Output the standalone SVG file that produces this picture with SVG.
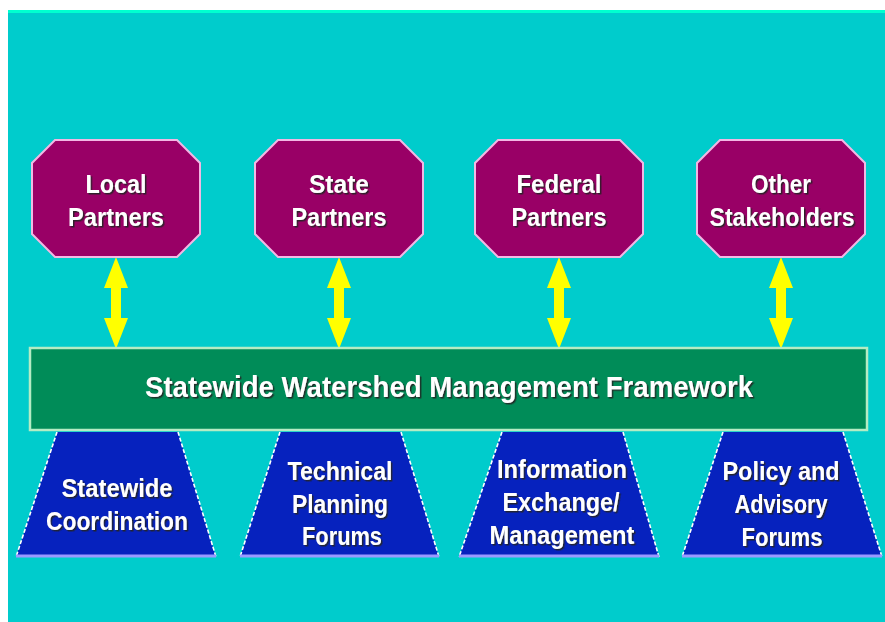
<svg xmlns="http://www.w3.org/2000/svg" width="885" height="622" viewBox="0 0 885 622">
<defs>
<filter id="sh" x="-10%" y="-30%" width="130%" height="160%">
<feDropShadow dx="1.5" dy="1.5" stdDeviation="0.6" flood-color="#202020" flood-opacity="0.9"/>
</filter>
</defs>
<style>
.oct{fill:#990066;stroke:#F2B8E4;stroke-width:2}
.trap{fill:#0622BE}
.side{stroke:#FFFFFF;stroke-width:1.6;stroke-dasharray:4 2;fill:none}
.base{stroke:#9A9AFF;stroke-width:3}
.frame{fill:#008C58;stroke:#B4ECC4;stroke-width:2.5}
.arrow{fill:#FFFF00}
text{font-family:"Liberation Sans",Arial,sans-serif;font-weight:bold;fill:#FFFFFF;text-anchor:middle;filter:url(#sh)}
.t{font-size:26.5px}
.h{font-size:29.5px}
</style>
<rect x="0" y="0" width="885" height="622" fill="#FFFFFF"/>
<rect x="8" y="10" width="877" height="612" fill="#00CCCC"/>
<rect x="8" y="10" width="877" height="3" fill="#00FFD0"/>

<g id="connectors">
<polygon class="arrow" points="116,257 128,288 121,288 121,318 128,318 116,349 104,318 111,318 111,288 104,288"/>
<polygon class="arrow" points="339,257 351,288 344,288 344,318 351,318 339,349 327,318 334,318 334,288 327,288"/>
<polygon class="arrow" points="559,257 571,288 564,288 564,318 571,318 559,349 547,318 554,318 554,288 547,288"/>
<polygon class="arrow" points="781,257 793,288 786,288 786,318 793,318 781,349 769,318 776,318 776,288 769,288"/>
</g>

<g id="local-partners">
<polygon class="oct" points="55,140 177,140 200,163 200,234 177,257 55,257 32,234 32,163"/>
<text class="t" x="116" y="193" textLength="61" lengthAdjust="spacingAndGlyphs">Local</text>
<text class="t" x="116" y="226" textLength="96" lengthAdjust="spacingAndGlyphs">Partners</text>
</g>
<g id="state-partners">
<polygon class="oct" points="278,140 400,140 423,163 423,234 400,257 278,257 255,234 255,163"/>
<text class="t" x="339" y="193" textLength="60" lengthAdjust="spacingAndGlyphs">State</text>
<text class="t" x="339" y="226" textLength="95" lengthAdjust="spacingAndGlyphs">Partners</text>
</g>
<g id="federal-partners">
<polygon class="oct" points="498,140 620,140 643,163 643,234 620,257 498,257 475,234 475,163"/>
<text class="t" x="559" y="193" textLength="85" lengthAdjust="spacingAndGlyphs">Federal</text>
<text class="t" x="559" y="226" textLength="95" lengthAdjust="spacingAndGlyphs">Partners</text>
</g>
<g id="other-stakeholders">
<polygon class="oct" points="720,140 842,140 865,163 865,234 842,257 720,257 697,234 697,163"/>
<text class="t" x="781" y="193" textLength="60" lengthAdjust="spacingAndGlyphs">Other</text>
<text class="t" x="782" y="226" textLength="145" lengthAdjust="spacingAndGlyphs">Stakeholders</text>
</g>

<g id="framework">
<rect class="frame" x="30" y="348" width="837" height="82"/>
<text class="h" x="449" y="397" textLength="608" lengthAdjust="spacingAndGlyphs">Statewide Watershed Management Framework</text>
</g>

<g id="statewide-coordination">
<polygon class="trap" points="57,432 178,432 216,557 16,557"/>
<line class="side" x1="57" y1="432" x2="16" y2="557"/>
<line class="side" x1="178" y1="432" x2="216" y2="557"/>
<line class="base" x1="16" y1="556" x2="216" y2="556"/>
<text class="t" x="117" y="497" textLength="111" lengthAdjust="spacingAndGlyphs">Statewide</text>
<text class="t" x="117" y="530" textLength="142" lengthAdjust="spacingAndGlyphs">Coordination</text>
</g>
<g id="technical-planning-forums">
<polygon class="trap" points="280,432 401,432 439,557 240,557"/>
<line class="side" x1="280" y1="432" x2="240" y2="557"/>
<line class="side" x1="401" y1="432" x2="439" y2="557"/>
<line class="base" x1="240" y1="556" x2="439" y2="556"/>
<text class="t" x="340" y="480" textLength="105" lengthAdjust="spacingAndGlyphs">Technical</text>
<text class="t" x="340" y="513" textLength="96" lengthAdjust="spacingAndGlyphs">Planning</text>
<text class="t" x="342" y="545" textLength="80" lengthAdjust="spacingAndGlyphs">Forums</text>
</g>
<g id="information-exchange-management">
<polygon class="trap" points="502,432 623,432 659,557 459,557"/>
<line class="side" x1="502" y1="432" x2="459" y2="557"/>
<line class="side" x1="623" y1="432" x2="659" y2="557"/>
<line class="base" x1="459" y1="556" x2="659" y2="556"/>
<text class="t" x="562" y="478" textLength="130" lengthAdjust="spacingAndGlyphs">Information</text>
<text class="t" x="561" y="511" textLength="117" lengthAdjust="spacingAndGlyphs">Exchange/</text>
<text class="t" x="562" y="544" textLength="145" lengthAdjust="spacingAndGlyphs">Management</text>
</g>
<g id="policy-advisory-forums">
<polygon class="trap" points="723,432 843,432 882,557 682,557"/>
<line class="side" x1="723" y1="432" x2="682" y2="557"/>
<line class="side" x1="843" y1="432" x2="882" y2="557"/>
<line class="base" x1="682" y1="556" x2="882" y2="556"/>
<text class="t" x="781" y="480" textLength="117" lengthAdjust="spacingAndGlyphs">Policy and</text>
<text class="t" x="781" y="513" textLength="93" lengthAdjust="spacingAndGlyphs">Advisory</text>
<text class="t" x="782" y="546" textLength="81" lengthAdjust="spacingAndGlyphs">Forums</text>
</g>
</svg>
